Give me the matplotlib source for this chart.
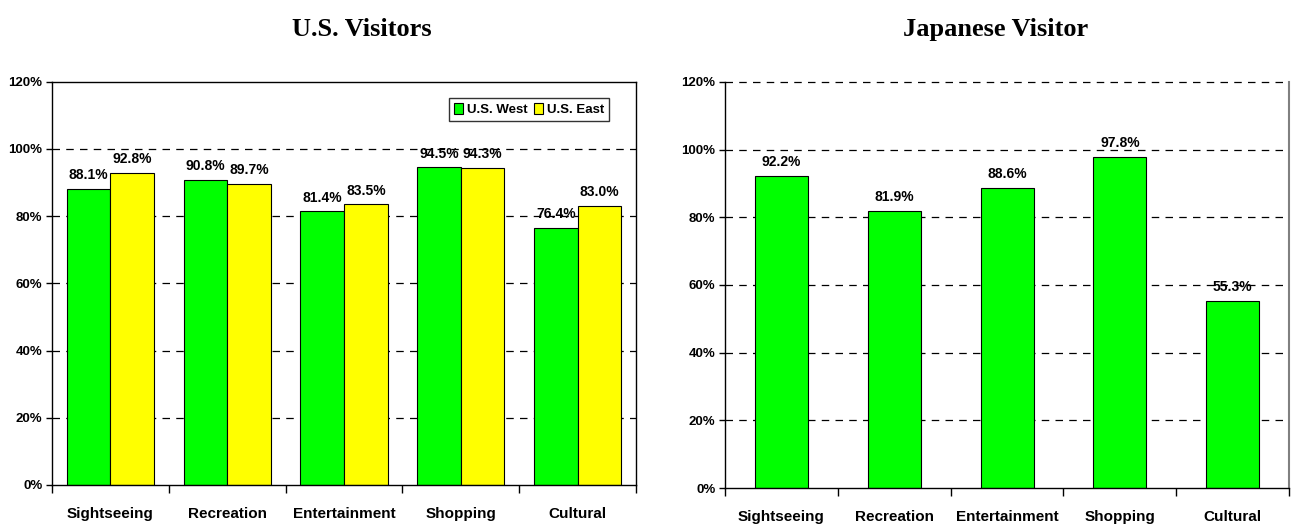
import matplotlib.pyplot as plt
import numpy as np
from matplotlib.ticker import FixedLocator, PercentFormatter

# data
categories = ["Sightseeing", "Recreation", "Entertainment", "Shopping", "Cultural"]
us_west = [88.1, 90.8, 81.4, 94.5, 76.4]
us_east = [92.8, 89.7, 83.5, 94.3, 83.0]
japan = [92.2, 81.9, 88.6, 97.8, 55.3]

plt.rcParams['font.family'] = ['Liberation Sans', 'DejaVu Sans']
plt.rcParams['font.weight'] = 'bold'

fig = plt.figure(figsize=(12.91, 5.29), dpi=100)
ax1 = fig.add_axes([0.0403, 0.0832, 0.4524, 0.7624])
ax2 = fig.add_axes([0.5616, 0.0775, 0.4369, 0.7675])

green = '#00FF00'
yellow = '#FFFF00'


def style_axis(ax):
    ax.set_ylim(0, 120)
    ax.set_xlim(-0.5, len(categories) - 0.5)
    ax.set_yticks(np.arange(0, 121, 20))
    ax.yaxis.set_major_formatter(PercentFormatter(decimals=0))
    for y in range(20, 101, 20):
        ax.axhline(y, color='black', lw=0.9, ls=(0, (6, 5)), zorder=0)
    x = np.arange(len(categories))
    ax.set_xticks(x)
    ax.set_xticklabels(categories, fontsize=11, fontweight='bold')
    ax.xaxis.set_minor_locator(FixedLocator(np.arange(-0.5, len(categories), 1)))
    ax.tick_params(axis='x', which='major', length=0, pad=16)
    ax.tick_params(axis='x', which='minor', length=6, width=1, direction='out')
    ax.tick_params(axis='y', length=4, width=1, labelsize=9.5, pad=3)
    for lab in ax.get_yticklabels():
        lab.set_fontweight('bold')
    for s in ax.spines.values():
        s.set_linewidth(1)


x = np.arange(len(categories))

# left chart: U.S. visitors
w = 0.373
b1 = ax1.bar(x - w / 2, us_west, w, color=green, edgecolor='black', lw=0.8, label='U.S. West', zorder=2)
b2 = ax1.bar(x + w / 2, us_east, w, color=yellow, edgecolor='black', lw=0.8, label='U.S. East', zorder=2)
for bars, vals in [(b1, us_west), (b2, us_east)]:
    for r, v in zip(bars, vals):
        ax1.text(r.get_x() + r.get_width() / 2, v + 2.0, f"{v:.1f}%", ha='center', va='bottom',
                 fontsize=10, fontweight='bold', zorder=3)
style_axis(ax1)
leg = ax1.legend(loc='upper right', ncol=2, fontsize=9.5, frameon=True, fancybox=False,
                 edgecolor='black', handlelength=0.7, handleheight=0.9, handletextpad=0.3,
                 columnspacing=0.5, borderpad=0.35, bbox_to_anchor=(0.965, 0.975))
leg.get_frame().set_linewidth(1)
for t in leg.get_texts():
    t.set_fontweight('bold')

# right chart: Japanese visitors
w2 = 0.47
b3 = ax2.bar(x, japan, w2, color=green, edgecolor='black', lw=0.8, zorder=2)
for r, v in zip(b3, japan):
    ax2.text(r.get_x() + r.get_width() / 2, v + 2.0, f"{v:.1f}%", ha='center', va='bottom',
             fontsize=10, fontweight='bold', zorder=3)
style_axis(ax2)
ax2.spines['top'].set_visible(False)
ax2.axhline(120, color='black', lw=0.9, ls=(0, (6, 5)), zorder=0, clip_on=False)
ax2.spines['right'].set_color('#808080')
ax2.spines['right'].set_linewidth(1.5)

fig.text(362 / 1291, 1 - 36 / 529, "U.S. Visitors", ha='center', va='baseline', fontsize=19,
         fontweight='bold', family='Liberation Serif')
fig.text(996 / 1291, 1 - 36 / 529, "Japanese Visitor", ha='center', va='baseline', fontsize=19,
         fontweight='bold', family='Liberation Serif')

fig.savefig('out.png', dpi=100)
